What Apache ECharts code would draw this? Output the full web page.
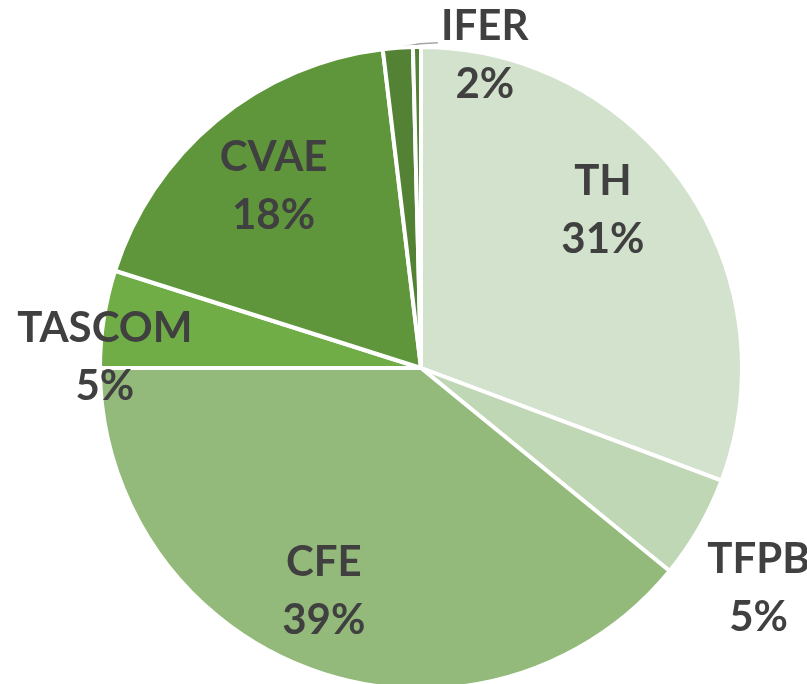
<!DOCTYPE html>
<html>
<head>
<meta charset="utf-8">
<script src="https://cdn.jsdelivr.net/npm/echarts@6/dist/echarts.min.js"></script>
<style>
  html, body { margin: 0; padding: 0; background: #fff; }
  #chart { width: 807px; height: 684px; }
</style>
</head>
<body>
<div id="chart"></div>
<script>
// values (share of total, %)
const categories = ['TH', 'TFPB', 'CFE', 'TASCOM', 'CVAE', 'IFER', 'Autres'];
const shares = [30.7, 5.2, 39.1, 4.9, 18.2, 1.5, 0.4];
const sliceColors = ['#D3E2CD', '#BFD7B4', '#93BA7A', '#70AD47', '#5F963B', '#548235', '#548235'];

// label nudges (px) from the default inside spot, and which labels are hidden
const labelShift = {
  TH: [-12, -23],
  TFPB: [133, 103],
  CFE: [-18, 1],
  TASCOM: [-83, 26],
  CVAE: [3, 0]
};
const outsideShift = [150, 13]; // IFER, moved from its default outside spot

const center = [421, 368];
const textStyle = {
  fontFamily: 'Lato',
  fontWeight: 'bold',
  fontSize: 42,
  lineHeight: 58,
  color: '#404040'
};

const chart = echarts.init(document.getElementById('chart'));

const mainData = categories.map((name, i) => ({
  name: name,
  value: shares[i],
  itemStyle: { color: sliceColors[i] },
  label: { show: name === 'IFER' },
  labelLine: { show: name === 'IFER' }
}));

const labelData = categories.map((name, i) => {
  const shift = labelShift[name];
  return {
    name: name,
    value: shares[i],
    label: shift ? { show: true, offset: shift } : { show: false }
  };
});

const iferIndex = categories.indexOf('IFER');

chart.setOption({
  animation: false,
  series: [
    {
      type: 'pie',
      center: center,
      radius: [0, 321],
      startAngle: 90,
      clockwise: true,
      avoidLabelOverlap: false,
      percentPrecision: 0,
      itemStyle: { borderColor: '#fff', borderWidth: 4 },
      label: Object.assign({ position: 'outside', formatter: '{b}\n{d}%' }, textStyle),
      labelLine: {
        show: true,
        length: 5,
        length2: 14,
        smooth: false,
        lineStyle: { color: '#A6A6A6', width: 1.5 }
      },
      labelLayout: function (params) {
        if (params.dataIndex !== iferIndex) return {};
        const r = params.labelRect;
        const p0 = params.labelLinePoints[0];
        return {
          x: r.x + r.width / 2 + outsideShift[0],
          y: r.y + r.height / 2 + outsideShift[1],
          align: 'center',
          verticalAlign: 'middle',
          // short leader: up-right from the slice edge, then flat
          labelLinePoints: [
            [p0[0], p0[1]],
            [p0[0] + 22, p0[1] - 4],
            [p0[0] + 40, p0[1] - 5]
          ]
        };
      },
      emphasis: { disabled: true },
      data: mainData
    },
    {
      // transparent copy that carries the in-slice labels further out
      type: 'pie',
      center: center,
      radius: [0, 466],
      startAngle: 90,
      clockwise: true,
      silent: true,
      avoidLabelOverlap: false,
      percentPrecision: 0,
      itemStyle: { color: 'rgba(0,0,0,0)', borderWidth: 0 },
      label: Object.assign({ position: 'inside', formatter: '{b}\n{d}%' }, textStyle),
      labelLine: { show: false },
      emphasis: { disabled: true },
      data: labelData
    }
  ]
});
</script>
</body>
</html>
